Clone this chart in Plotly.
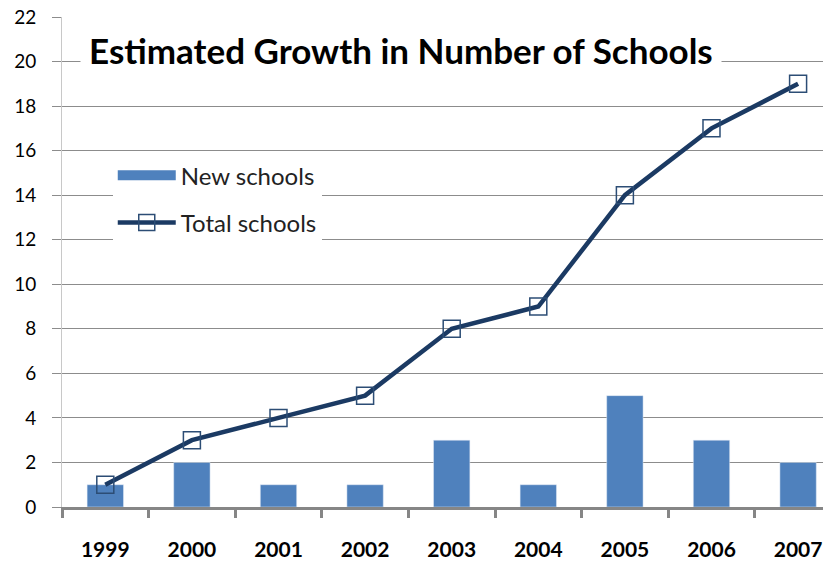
import plotly.graph_objects as go

years = ["1999", "2000", "2001", "2002", "2003", "2004", "2005", "2006", "2007"]
new_schools = [1, 2, 1, 1, 3, 1, 5, 3, 2]
total_schools = [1, 3, 4, 5, 8, 9, 14, 17, 19]

FONT = "Lato, Open Sans, sans-serif"

fig = go.Figure()
fig.add_trace(go.Bar(
    x=years, y=new_schools, name="New schools", showlegend=False,
    marker=dict(color="#4F81BD"), width=0.42))
# legend entry for the bars, drawn as a wide swatch like the original
fig.add_trace(go.Scatter(
    x=[None], y=[None], name="New schools", mode="lines", legendgroup="a",
    line=dict(color="#4F81BD", width=13)))
fig.add_trace(go.Scatter(
    x=years, y=total_schools, name="Total schools", mode="lines+markers", legendgroup="b",
    line=dict(color="#1B3A63", width=4.5),
    marker=dict(symbol="square-open", size=17, color="#2C4D75", line=dict(width=1.5))))

fig.add_annotation(
    text="<b>Estimated Growth in Number of Schools</b>",
    xref="paper", yref="paper", x=0.024, y=0.933, xanchor="left", yanchor="middle",
    showarrow=False, bgcolor="white", borderpad=8,
    font=dict(family=FONT, size=35, color="black"))

fig.update_layout(
    width=823, height=558,
    margin=dict(l=54, r=0, t=9, b=59, autoexpand=False),
    plot_bgcolor="white", paper_bgcolor="white",
    showlegend=True,
    legend=dict(x=0.066, y=0.722, xanchor="left", yanchor="top", bgcolor="white",
                font=dict(family=FONT, size=24, color="#222222"),
                tracegroupgap=13, itemwidth=58),
    font=dict(family=FONT))
fig.update_xaxes(
    type="category", range=[-0.5, 8.38], automargin=False,
    showline=True, linecolor="#868686", linewidth=2.5,
    ticks="outside", ticklen=8, tickcolor="#868686", tickwidth=2.5,
    tickson="boundaries", showgrid=False, ticklabelstandoff=22,
    ticklabeloverflow="allow",
    tickfont=dict(size=21, color="black", family=FONT, weight="bold"))
fig.update_yaxes(
    range=[0, 22], dtick=2, showgrid=True, gridcolor="#8C8C8C", gridwidth=1,
    showline=True, linecolor="#C8C8C8", linewidth=1, zeroline=False, automargin=False,
    ticks="outside", ticklen=9, tickcolor="#8C8C8C", ticklabelstandoff=12,
    ticklabeloverflow="allow",
    tickfont=dict(size=19, color="black", family=FONT))

fig.write_html("out.html")
